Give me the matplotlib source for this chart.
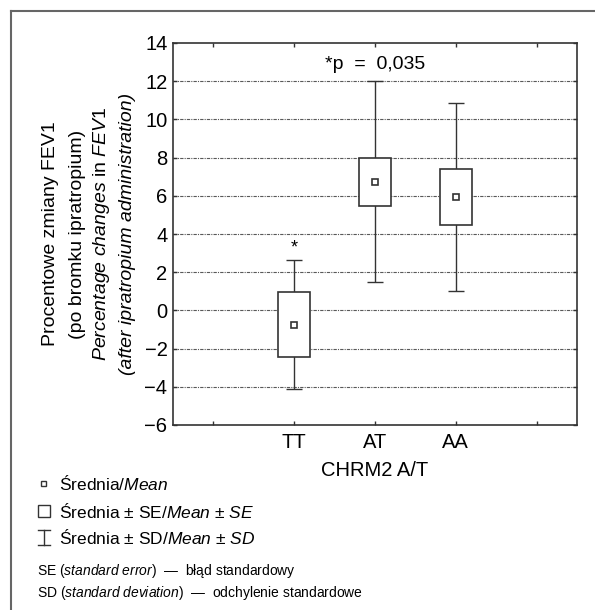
"""Mean / SE / SD box chart of FEV1 change by CHRM2 A/T genotype."""

import matplotlib

matplotlib.use("Agg")
import matplotlib.pyplot as plt
from matplotlib.lines import Line2D
from matplotlib.patches import Rectangle

plt.rcParams["font.family"] = ["Liberation Sans", "DejaVu Sans"]
plt.rcParams["mathtext.fontset"] = "custom"
plt.rcParams["mathtext.rm"] = "Liberation Sans"
plt.rcParams["mathtext.it"] = "Liberation Sans:italic"

# data
slots = ["", "TT", "AT", "AA", ""]
genotypes = ["TT", "AT", "AA"]
means = [-0.75, 6.73, 5.93]
se_low = [-2.45, 5.48, 4.45]
se_high = [0.95, 7.97, 7.42]
sd_low = [-4.1, 1.5, 1.02]
sd_high = [2.62, 12.0, 10.87]
y_ticks = list(range(-6, 15, 2))

W, H = 595, 610
fig = plt.figure(figsize=(W / 100, H / 100), dpi=100)
ax = fig.add_axes([173 / W, 1 - 425 / H, 404 / W, 382 / H])

xpos = [slots.index(g) for g in genotypes]
edge = "#333333"

for y in y_ticks[1:-1]:
    ax.axhline(y, color="0.35", linewidth=0.8, linestyle=(0, (3, 1, 1, 1)), zorder=1)

ax.errorbar(xpos, means,
            yerr=[[m - lo for m, lo in zip(means, sd_low)],
                  [hi - m for m, hi in zip(means, sd_high)]],
            fmt="none", ecolor=edge, elinewidth=1.0, capsize=5.5, capthick=1.0, zorder=2)
ax.bar(xpos, [hi - lo for hi, lo in zip(se_high, se_low)], bottom=se_low, width=0.4,
       color="white", edgecolor=edge, linewidth=1.2, zorder=3)
ax.plot(xpos, means, linestyle="none", marker="s", markersize=4.5,
        markerfacecolor="white", markeredgecolor=edge, markeredgewidth=1.2, zorder=4)

ax.text(xpos[0], sd_high[0] + 0.65, "*", ha="center", va="center", fontsize=13)
ax.text(xpos[1], 12.85, "*p  =  0,035", ha="center", va="center", fontsize=14)

ax.set_xlim(-0.5, len(slots) - 0.5)
ax.set_ylim(-6, 14)
ax.set_xticks(range(len(slots)))
ax.set_xticklabels(slots)
ax.set_yticks(y_ticks)
ax.set_yticklabels([f"{v}".replace("-", "\u2212") for v in y_ticks])
ax.tick_params(direction="in", length=3, width=1.0, color=edge, labelsize=14.5,
               top=True, right=True, pad=4)
ax.tick_params(axis="x", pad=6)
for s in ax.spines.values():
    s.set_color(edge)
    s.set_linewidth(1.2)
ax.set_xlabel("CHRM2 A/T", fontsize=14.5, labelpad=6)

# rotated y label, four lines
ycen = 1 - 234 / H
ylines = [
    (51, "Procentowe zmiany FEV1", "normal"),
    (77, "(po bromku ipratropium)", "normal"),
    (102, r"$\mathit{Percentage\ changes}$ in $\mathit{FEV1}$", "normal"),
    (128, "(after ipratropium administration)", "italic"),
]
for px, txt, st in ylines:
    fig.text(px / W, ycen, txt, rotation=90, ha="center", va="center",
             fontsize=14, style=st)

# outer frame (top and left visible)
fig.add_artist(Line2D([11 / W, 11 / W], [0, 1 - 11 / H], color="0.4", linewidth=1.5))
fig.add_artist(Line2D([11 / W, 1], [1 - 11 / H, 1 - 11 / H], color="0.4", linewidth=1.5))

# key below the chart
fig.add_artist(Rectangle((41 / W, 1 - 486 / H), 5 / W, 5 / H, fill=False,
                         edgecolor=edge, linewidth=1.0))
fig.add_artist(Rectangle((38 / W, 1 - 517 / H), 12 / W, 12 / H, fill=False,
                         edgecolor=edge, linewidth=1.0))
fig.add_artist(Line2D([44 / W, 44 / W], [1 - 530 / H, 1 - 545 / H], color=edge, linewidth=1.0))
fig.add_artist(Line2D([38 / W, 50 / W], [1 - 530 / H, 1 - 530 / H], color=edge, linewidth=1.0))
fig.add_artist(Line2D([38 / W, 50 / W], [1 - 545 / H, 1 - 545 / H], color=edge, linewidth=1.0))

key_lines = [
    (484, r"Średnia/$\mathit{Mean}$"),
    (511, r"Średnia $\pm$ SE/$\mathit{Mean}$ $\pm$ $\mathit{SE}$"),
    (537, r"Średnia $\pm$ SD/$\mathit{Mean}$ $\pm$ $\mathit{SD}$"),
]
for py, txt in key_lines:
    fig.text(59 / W, 1 - py / H, txt, ha="left", va="center", fontsize=12.5)

notes = [
    (571, r"SE ($\mathit{standard\ error}$)  —  błąd standardowy"),
    (593, r"SD ($\mathit{standard\ deviation}$)  —  odchylenie standardowe"),
]
for py, txt in notes:
    fig.text(37 / W, 1 - py / H, txt, ha="left", va="center", fontsize=10)

fig.savefig("out.png", dpi=100)
